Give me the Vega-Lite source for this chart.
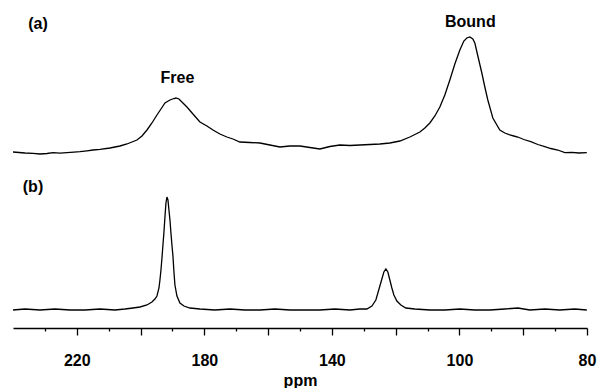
{
  "$schema": "https://vega.github.io/schema/vega-lite/v6.json",
  "padding": {"left": 13, "right": 11, "top": 0, "bottom": 0},
  "background": "white",
  "config": {"view": {"stroke": null}, "font": "Liberation Sans", "concat": {"spacing": 0}},
  "datasets": {
    "a": [
      {"ppm": 240.00, "i": 0}, {"ppm": 236.24, "i": -1}, {"ppm": 233.73, "i": -1.3}, {"ppm": 231.54, "i": -2},
      {"ppm": 229.34, "i": -1.5}, {"ppm": 227.46, "i": -0.7}, {"ppm": 225.27, "i": -1.2}, {"ppm": 223.07, "i": -0.7},
      {"ppm": 220.88, "i": -0.2}, {"ppm": 219.00, "i": 0.3}, {"ppm": 216.80, "i": 1.2}, {"ppm": 214.92, "i": 2},
      {"ppm": 212.73, "i": 2.6}, {"ppm": 209.59, "i": 4}, {"ppm": 206.46, "i": 6}, {"ppm": 204.26, "i": 8},
      {"ppm": 201.13, "i": 12}, {"ppm": 199.56, "i": 16}, {"ppm": 197.99, "i": 22}, {"ppm": 196.43, "i": 29},
      {"ppm": 194.86, "i": 37}, {"ppm": 193.60, "i": 43}, {"ppm": 192.35, "i": 49}, {"ppm": 190.78, "i": 52},
      {"ppm": 189.53, "i": 53.5}, {"ppm": 188.90, "i": 54}, {"ppm": 187.96, "i": 53}, {"ppm": 186.71, "i": 49},
      {"ppm": 185.45, "i": 45}, {"ppm": 183.57, "i": 38}, {"ppm": 181.38, "i": 30}, {"ppm": 179.18, "i": 26},
      {"ppm": 177.30, "i": 22}, {"ppm": 175.11, "i": 18}, {"ppm": 172.92, "i": 15}, {"ppm": 171.03, "i": 13},
      {"ppm": 168.84, "i": 10}, {"ppm": 165.71, "i": 9.5}, {"ppm": 162.57, "i": 9}, {"ppm": 159.44, "i": 7},
      {"ppm": 156.30, "i": 5}, {"ppm": 153.17, "i": 6}, {"ppm": 150.03, "i": 6}, {"ppm": 146.90, "i": 4.5},
      {"ppm": 143.76, "i": 3}, {"ppm": 140.63, "i": 5.5}, {"ppm": 137.49, "i": 7}, {"ppm": 134.36, "i": 6.5},
      {"ppm": 131.22, "i": 7}, {"ppm": 128.09, "i": 7.5}, {"ppm": 124.95, "i": 8}, {"ppm": 121.82, "i": 9},
      {"ppm": 118.68, "i": 11}, {"ppm": 115.55, "i": 15}, {"ppm": 112.41, "i": 20}, {"ppm": 110.85, "i": 24},
      {"ppm": 109.28, "i": 29}, {"ppm": 107.71, "i": 36}, {"ppm": 106.14, "i": 45}, {"ppm": 104.58, "i": 57},
      {"ppm": 103.01, "i": 72}, {"ppm": 101.44, "i": 88}, {"ppm": 99.87, "i": 102}, {"ppm": 98.62, "i": 111},
      {"ppm": 97.68, "i": 114}, {"ppm": 96.74, "i": 115}, {"ppm": 95.80, "i": 113}, {"ppm": 95.17, "i": 109},
      {"ppm": 94.23, "i": 96}, {"ppm": 92.98, "i": 79}, {"ppm": 92.04, "i": 65}, {"ppm": 91.10, "i": 52},
      {"ppm": 89.53, "i": 34}, {"ppm": 87.34, "i": 22}, {"ppm": 85.77, "i": 19}, {"ppm": 84.20, "i": 17},
      {"ppm": 82.95, "i": 16}, {"ppm": 81.69, "i": 15}, {"ppm": 79.81, "i": 12.5}, {"ppm": 77.62, "i": 10.3},
      {"ppm": 75.42, "i": 7.5}, {"ppm": 73.23, "i": 5.3}, {"ppm": 71.35, "i": 3.5}, {"ppm": 69.15, "i": 2},
      {"ppm": 66.96, "i": -0.7}, {"ppm": 64.76, "i": -0.3}, {"ppm": 62.57, "i": -1}, {"ppm": 60.06, "i": -0.7}
    ],
    "b": [
      {"ppm": 240.00, "i": 0}, {"ppm": 236.24, "i": 1}, {"ppm": 231.54, "i": 0}, {"ppm": 226.83, "i": 1},
      {"ppm": 222.13, "i": 0}, {"ppm": 217.43, "i": 0}, {"ppm": 212.73, "i": 1}, {"ppm": 208.02, "i": 0},
      {"ppm": 204.89, "i": 1}, {"ppm": 202.38, "i": 2}, {"ppm": 200.19, "i": 3}, {"ppm": 197.99, "i": 5},
      {"ppm": 196.43, "i": 8}, {"ppm": 195.49, "i": 11}, {"ppm": 194.86, "i": 14}, {"ppm": 194.23, "i": 22},
      {"ppm": 193.92, "i": 30}, {"ppm": 193.60, "i": 40}, {"ppm": 193.29, "i": 52}, {"ppm": 192.98, "i": 65},
      {"ppm": 192.66, "i": 78}, {"ppm": 192.35, "i": 93}, {"ppm": 192.04, "i": 107}, {"ppm": 191.72, "i": 113},
      {"ppm": 191.41, "i": 110}, {"ppm": 191.10, "i": 100}, {"ppm": 190.78, "i": 90}, {"ppm": 190.47, "i": 77},
      {"ppm": 190.16, "i": 65}, {"ppm": 189.84, "i": 54}, {"ppm": 189.53, "i": 38}, {"ppm": 189.22, "i": 25},
      {"ppm": 188.59, "i": 14}, {"ppm": 187.65, "i": 7}, {"ppm": 186.39, "i": 4}, {"ppm": 184.51, "i": 2},
      {"ppm": 181.38, "i": 1}, {"ppm": 176.68, "i": 0}, {"ppm": 171.97, "i": 1}, {"ppm": 167.27, "i": 0},
      {"ppm": 162.57, "i": 0}, {"ppm": 157.87, "i": 1}, {"ppm": 153.17, "i": 0}, {"ppm": 148.46, "i": 0},
      {"ppm": 143.76, "i": 0}, {"ppm": 139.06, "i": 1}, {"ppm": 134.36, "i": 0}, {"ppm": 131.22, "i": 1},
      {"ppm": 129.03, "i": 1}, {"ppm": 127.46, "i": 4}, {"ppm": 126.21, "i": 10}, {"ppm": 125.58, "i": 17},
      {"ppm": 124.95, "i": 24}, {"ppm": 124.33, "i": 31}, {"ppm": 123.70, "i": 38}, {"ppm": 123.07, "i": 41},
      {"ppm": 122.45, "i": 38}, {"ppm": 121.82, "i": 30}, {"ppm": 121.19, "i": 22}, {"ppm": 120.56, "i": 15},
      {"ppm": 119.62, "i": 9}, {"ppm": 118.37, "i": 5}, {"ppm": 116.80, "i": 2}, {"ppm": 113.98, "i": 1},
      {"ppm": 109.28, "i": 0}, {"ppm": 104.58, "i": 0}, {"ppm": 99.87, "i": 1}, {"ppm": 95.17, "i": 0},
      {"ppm": 90.47, "i": 0}, {"ppm": 85.77, "i": 1}, {"ppm": 81.69, "i": 2}, {"ppm": 77.93, "i": 0},
      {"ppm": 73.23, "i": 1}, {"ppm": 68.53, "i": 0}, {"ppm": 63.82, "i": 1}, {"ppm": 60.06, "i": 0}
    ],
    "labels": [
      {"panel": "a", "label": "(a)", "ppm": 232.16, "i": 128},
      {"panel": "a", "label": "Free", "ppm": 188.43, "i": 74.5},
      {"panel": "a", "label": "Bound", "ppm": 96.58, "i": 130.5},
      {"panel": "b", "label": "(b)", "ppm": 233.73, "i": 123}
    ]
  },
  "vconcat": [
    {
      "width": 574,
      "height": 165,
      "layer": [
        {
          "data": {"name": "a"},
          "mark": {"type": "line", "color": "black", "strokeWidth": 1.3, "clip": true},
          "encoding": {
            "x": {"field": "ppm", "type": "quantitative", "scale": {"domain": [60, 240], "reverse": true, "nice": false, "zero": false}, "axis": null},
            "y": {"field": "i", "type": "quantitative", "scale": {"domain": [-13, 152], "nice": false, "zero": false}, "axis": null}
          }
        },
        {
          "data": {"name": "labels"},
          "transform": [{"filter": "datum.panel == 'a'"}],
          "mark": {"type": "text", "fontWeight": "bold", "fontSize": 16, "color": "black", "baseline": "middle", "align": "center"},
          "encoding": {
            "x": {"field": "ppm", "type": "quantitative", "axis": null},
            "y": {"field": "i", "type": "quantitative", "axis": null},
            "text": {"field": "label", "type": "nominal"}
          }
        }
      ]
    },
    {
      "width": 574,
      "height": 163,
      "resolve": {"axis": {"x": "independent"}},
      "layer": [
        {
          "data": {"name": "b"},
          "mark": {"type": "line", "color": "black", "strokeWidth": 1.3, "clip": true},
          "encoding": {
            "x": {"field": "ppm", "type": "quantitative", "scale": {"domain": [60, 240], "reverse": true, "nice": false, "zero": false},
              "axis": {"orient": "bottom", "values": [220, 200, 180, 160, 140, 120, 100, 80, 60], "tickSize": 7, "tickColor": "black", "tickWidth": 1.3,
                "domainColor": "black", "domainWidth": 1.3, "grid": false,
                "labelExpr": "datum.value == 60 ? '80' : (datum.value % 40 == 20 ? datum.label : '')",
                "labelFont": "Liberation Sans", "labelFontWeight": "bold", "labelFontSize": 16, "labelColor": "black", "labelPadding": 17,
                "labelFlush": false, "labelOverlap": false,
                "title": "ppm", "titleFont": "Liberation Sans", "titleFontSize": 16, "titleFontWeight": "bold", "titleColor": "black", "titlePadding": 4}},
            "y": {"field": "i", "type": "quantitative", "scale": {"domain": [-18, 145], "nice": false, "zero": false}, "axis": null}
          }
        },
        {
          "data": {"name": "labels"},
          "transform": [{"filter": "datum.panel == 'b'"}],
          "mark": {"type": "text", "fontWeight": "bold", "fontSize": 16, "color": "black", "baseline": "middle", "align": "center"},
          "encoding": {
            "x": {"field": "ppm", "type": "quantitative",
              "axis": {"orient": "bottom", "values": [230, 210, 190, 170, 150, 130, 110, 90, 70], "tickSize": 3, "tickColor": "black", "tickWidth": 1.3,
                "labels": false, "domain": false, "grid": false, "title": null}},
            "y": {"field": "i", "type": "quantitative", "axis": null},
            "text": {"field": "label", "type": "nominal"}
          }
        }
      ]
    }
  ]
}
